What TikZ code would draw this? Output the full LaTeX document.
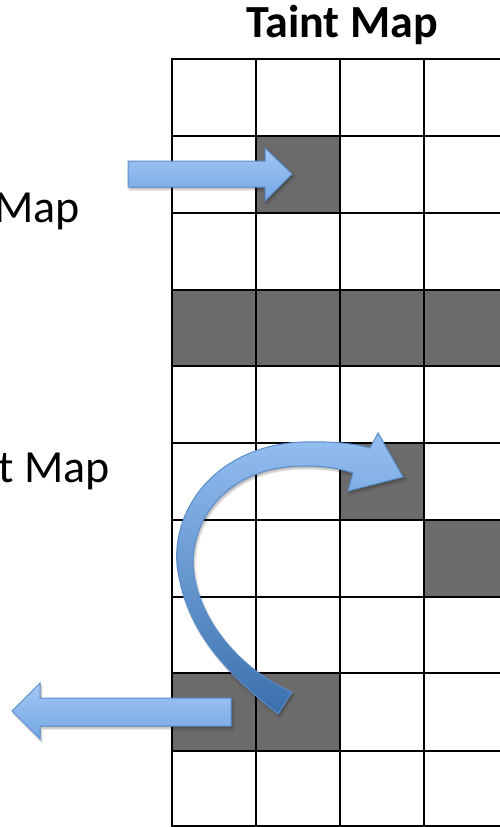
\documentclass[tikz,border=0pt]{standalone}
\usepackage{fontspec}
\setmainfont{Carlito}
\usetikzlibrary{shadows.blur}
\definecolor{cellgray}{HTML}{6B6B6B}
\definecolor{arrtop}{HTML}{A3C8F5}
\definecolor{arrbot}{HTML}{73A7E3}
\definecolor{arredge}{HTML}{5B8DCB}
\definecolor{curvtop}{HTML}{94BFF2}
\definecolor{curvbot}{HTML}{3A70AC}
\begin{document}
\begin{tikzpicture}[x=1pt,y=-1pt,
  cellfill/.style={fill=cellgray},
  gridline/.style={line width=2.6pt,black},
  blockarrow/.style={draw=arredge,line width=1pt,line join=miter,top color=arrtop,bottom color=arrbot,
    blur shadow={shadow xshift=1.5pt,shadow yshift=-2.5pt,shadow blur steps=6,shadow opacity=30}},
  curvarrow/.style={draw=arredge,line width=1pt,line join=miter,top color=curvtop,bottom color=curvbot,
    blur shadow={shadow xshift=1.5pt,shadow yshift=-2.5pt,shadow blur steps=6,shadow opacity=30}},
  lbl/.style={font=\fontsize{46}{52}\selectfont,inner sep=0pt},
  title/.style={font=\fontsize{46}{52}\selectfont\bfseries,inner sep=0pt}]
\useasboundingbox (0,0) rectangle (500,827);
% shaded cells
\fill[cellfill] (256,136) rectangle (340,213);
\fill[cellfill] (172,290) rectangle (508,366);
\fill[cellfill] (340,443) rectangle (424,520);
\fill[cellfill] (424,520) rectangle (508,597);
\fill[cellfill] (172,673) rectangle (340,751);
% grid
\foreach \x in {172,256,340,424}{\draw[gridline] (\x,59) -- (\x,827);}
\foreach \y in {59,136,213,290,366,443,520,597,673,751,826}{\draw[gridline] (170.7,\y) -- (510,\y);}
% texts
\node[title,anchor=base] (title) at (342,37) {Taint Map};
\node[lbl,anchor=base east] (inmap) at (80,222) {Map};
\node[lbl,anchor=base east] (outmap) at (110,482) {t Map};
% straight arrows
\path[blockarrow] (128,161) -- (265,161) -- (265,148) -- (292,174) -- (265,201) -- (265,187) -- (128,187) -- cycle;
\path[blockarrow] (231,698) -- (40,698) -- (40,683) -- (12,711) -- (40,739) -- (40,726) -- (231,726) -- cycle;
% curved arrow
\path[curvarrow] (278,714)
  .. controls (225,672) and (185,630) .. (177,565)
  .. controls (172,505) and (220,445) .. (303,442)
  .. controls (335,441) and (355,444) .. (370,448)
  -- (378,433) -- (403,477) -- (348,491) -- (353,473)
  .. controls (335,467) and (320,466) .. (303,466)
  .. controls (235,466) and (195,510) .. (193,560)
  .. controls (193,615) and (240,670) .. (292,692)
  -- cycle;
\end{tikzpicture}
\end{document}
